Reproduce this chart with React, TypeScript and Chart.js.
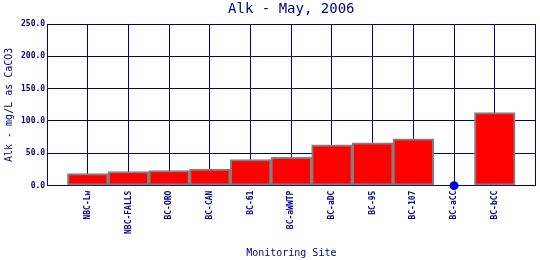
import React, { useEffect, useRef } from "react";
import { Chart, registerables } from "chart.js";

Chart.register(...registerables);

const sites = ["NBC-Lw", "NBC-FALLS", "BC-ORO", "BC-CAN", "BC-61", "BC-aWWTP", "BC-aDC", "BC-95", "BC-107", "BC-aCC", "BC-bCC"];
const alkValues: (number | null)[] = [18.5, 21.6, 23.2, 25.7, 40.3, 43.9, 63.3, 66.4, 72.6, null, 113.0];
const zeroSites = ["BC-aCC"];
const yTicks = [0, 50, 100, 150, 200, 250];

const TITLE = "Alk - May, 2006";
const NAVY = "#000080";
const MONO = "'DejaVu Sans Mono', 'Liberation Mono', monospace";

export default function App() {
  const ref = useRef<HTMLCanvasElement>(null);
  useEffect(() => {
    if (!ref.current) return;
    const labels = ["", ...sites, ""];
    const barData = [null, ...alkValues, null];
    const dotData = [null, ...sites.map((s) => (zeroSites.includes(s) ? 0 : null)), null];
    const titlePlugin = {
      id: "centerTitle",
      afterDraw(chart: any) {
        const { ctx, chartArea } = chart;
        ctx.save();
        ctx.font = `14px ${MONO}`;
        ctx.fillStyle = NAVY;
        ctx.textAlign = "center";
        ctx.textBaseline = "middle";
        ctx.fillText(TITLE, (chartArea.left + chartArea.right) / 2, 9);
        ctx.restore();
      },
    };
    const chart = new Chart(ref.current, {
      type: "bar",
      data: {
        labels,
        datasets: [
          {
            type: "bar",
            data: barData as any,
            backgroundColor: "#ff0000",
            borderColor: "#808080",
            borderWidth: 2,
            borderSkipped: false,
            barPercentage: 1,
            categoryPercentage: 1,
            order: 2,
          },
          {
            type: "line",
            data: dotData as any,
            showLine: false,
            pointRadius: 4.5,
            pointBackgroundColor: "#0000dd",
            pointBorderColor: "#0000dd",
            pointBorderWidth: 0,
            clip: false as any,
            order: 1,
          },
        ],
      },
      options: {
        responsive: false,
        animation: false,
        layout: { padding: { top: 24, right: 4, left: 3, bottom: 1 } },
        plugins: { legend: { display: false }, tooltip: { enabled: false } },
        scales: {
          x: {
            offset: false,
            afterFit: (axis: any) => {
              axis.paddingRight = 0;
              axis.paddingLeft = 0;
            },
            grid: { color: NAVY, offset: false, drawTicks: false, lineWidth: 1 },
            border: { color: NAVY, width: 1 },
            ticks: {
              color: NAVY,
              font: { family: MONO, size: 8, weight: "bold" },
              maxRotation: 90,
              minRotation: 90,
              autoSkip: false,
              padding: 5,
            },
            title: {
              display: true,
              text: "Monitoring Site",
              color: NAVY,
              font: { family: MONO, size: 10 },
              padding: { top: 8, bottom: 0 },
            },
          },
          y: {
            min: 0,
            max: 250,
            afterFit: (axis: any) => {
              axis.paddingTop = 0;
              axis.paddingBottom = 0;
            },
            afterBuildTicks: (axis: any) => {
              axis.ticks = yTicks.map((v) => ({ value: v }));
            },
            grid: { color: NAVY, drawTicks: false, lineWidth: 1 },
            border: { color: NAVY, width: 1 },
            ticks: {
              color: NAVY,
              font: { family: MONO, size: 8, weight: "bold" },
              padding: 2,
              callback: (v: any) => Number(v).toFixed(1),
            },
            title: {
              display: true,
              text: "Alk - mg/L as CaCO3",
              color: NAVY,
              font: { family: MONO, size: 10 },
              padding: { top: 0, bottom: 4 },
            },
          },
        },
      },
      plugins: [titlePlugin],
    });
    return () => chart.destroy();
  }, []);
  return (
    <div style={{ position: "fixed", left: 0, top: 0, width: 540, height: 260, background: "#fff" }}>
      <canvas ref={ref} width={540} height={260} style={{ display: "block" }} />
    </div>
  );
}
